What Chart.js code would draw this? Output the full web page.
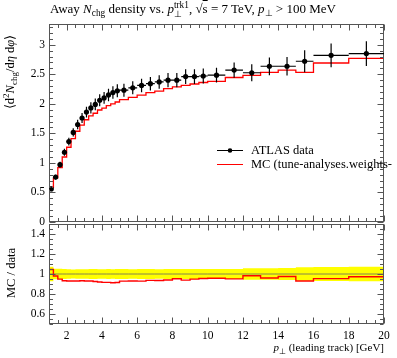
<!DOCTYPE html>
<html>
<head>
<meta charset="utf-8">
<script src="https://cdn.jsdelivr.net/npm/chart.js"></script>
<style>
  html, body { margin: 0; padding: 0; background: #fff; overflow: hidden; }
  #wrap { position: relative; width: 397px; height: 358px; font-family: "Liberation Serif", serif; color: #000; overflow: hidden; }
  canvas { position: absolute; left: 0; }
  .txt { position: absolute; white-space: nowrap; font-size: 12.5px; line-height: 1; }
  .txt sub, .txt sup { font-size: 0.72em; line-height: 0; }
  .ss { display: inline-flex; flex-direction: column; vertical-align: middle; font-size: 0.72em; line-height: 0.95; }
  .rot { transform: translate(-50%, -50%) rotate(-90deg); }
</style>
</head>
<body>
<div id="wrap">
  <canvas id="mainChart" width="397" height="226" style="top:0"></canvas>
  <canvas id="ratioChart" width="397" height="134" style="top:224px"></canvas>

  <div class="txt" style="left:50px; top:1px; font-size:13px;">Away <i>N</i><sub>chg</sub> density vs. <i>p</i><span class="ss"><span>trk1</span><span>⊥</span></span>, √<span style="text-decoration:overline">s</span> = 7 TeV, <i>p</i><sub>⊥</sub> &gt; 100 MeV</div>
  <div class="txt rot" style="left:10px; top:72px;">⟨d<sup>2</sup><i>N</i><sub>chg</sub>/d<i>η</i> d<i>φ</i>⟩</div>
  <div class="txt rot" style="left:11px; top:273px;">MC / data</div>
  <div class="txt" style="right:13px; top:342px; font-size:11px;"><i>p</i><sub>⊥</sub> (leading track) [GeV]</div>
  <div class="txt" style="left:251px; top:144px;">ATLAS data</div>
  <div class="txt" style="left:251px; top:158px;">MC (tune-analyses.weights-</div>
</div>
<script>
// bin edges of the leading-track pT bins [GeV]
const binEdges = [1, 1.25, 1.5, 1.75, 2, 2.25, 2.5, 2.75, 3, 3.25, 3.5, 3.75, 4, 4.25, 4.5, 4.75, 5,
  5.5, 6, 6.5, 7, 7.5, 8, 8.5, 9, 9.5, 10, 11, 12, 13, 14, 15, 16, 18, 20];

// ATLAS data, away region
const dataValues = [0.56, 0.76, 0.97, 1.18, 1.36, 1.515, 1.65, 1.76, 1.86, 1.93, 1.99, 2.06, 2.10, 2.15, 2.19, 2.22,
  2.23, 2.27, 2.31, 2.34, 2.37, 2.40, 2.40, 2.46, 2.46, 2.47,
  2.485, 2.57, 2.525, 2.635, 2.635, 2.72, 2.82, 2.85];
const dataErrors = [0.04, 0.04, 0.05, 0.06, 0.065, 0.07, 0.08, 0.085, 0.09, 0.095, 0.1, 0.1, 0.1, 0.105, 0.105, 0.11,
  0.11, 0.11, 0.115, 0.115, 0.115, 0.12, 0.12, 0.125, 0.125, 0.125,
  0.125, 0.13, 0.145, 0.15, 0.155, 0.185, 0.2, 0.21];

// MC prediction
const mcValues = [0.585, 0.745, 0.92, 1.10, 1.265, 1.41, 1.535, 1.64, 1.73, 1.795, 1.84, 1.895, 1.925, 1.97, 2.00, 2.03,
  2.07, 2.11, 2.145, 2.19, 2.215, 2.255, 2.285, 2.31, 2.335, 2.36,
  2.38, 2.445, 2.48, 2.53, 2.57, 2.53, 2.69, 2.77];

// tick labels
const xTickLabels = [2, 4, 6, 8, 10, 12, 14, 16, 18, 20];
const yTickLabelsMain = [0, 0.5, 1, 1.5, 2, 2.5, 3];
const yTickLabelsRatio = [0.6, 0.8, 1, 1.2, 1.4];

const binCentres = dataValues.map((v, i) => (binEdges[i] + binEdges[i + 1]) / 2);

// points for a stepped histogram line
function stepPoints(vals) {
  const pts = vals.map((v, i) => ({ x: binEdges[i], y: v }));
  pts.push({ x: binEdges[vals.length], y: vals[vals.length - 1] });
  return pts;
}

const mcRatio = mcValues.map((v, i) => v / dataValues[i]);
const bandUp = dataValues.map((v, i) => 1 + dataErrors[i] / v);
const bandDown = dataValues.map((v, i) => 1 - dataErrors[i] / v);
const dataRatio = dataValues.map(() => 1);

const FONT = { family: 'Liberation Serif', size: 11.5 };

// frame with inward ticks on all four sides
const framePlugin = {
  id: 'frame',
  afterDatasetsDraw(chart, args, opts) {
    const { ctx, chartArea: a } = chart;
    const xs = chart.scales.x, ys = chart.scales.y;
    const L = Math.round(a.left) + 0.5, R = Math.round(a.right) - 0.5;
    const T = Math.round(a.top) + 0.5, B = Math.round(a.bottom) - 0.5;
    ctx.save();
    ctx.strokeStyle = '#555';
    ctx.lineWidth = 1;
    ctx.strokeRect(L, T, R - L, B - T);
    ctx.beginPath();
    const isIn = (list, v) => list.some(m => Math.abs(m - v) < 1e-6);
    for (let v = Math.ceil(xs.min / opts.xMinor) * opts.xMinor; v <= xs.max + 1e-9; v += opts.xMinor) {
      const px = Math.round(xs.getPixelForValue(v)) + 0.5;
      const len = isIn(opts.xMajor, v) ? 6 : 3.5;
      ctx.moveTo(px, B); ctx.lineTo(px, B - len);
      ctx.moveTo(px, T); ctx.lineTo(px, T + len);
    }
    for (let v = Math.ceil(ys.min / opts.yMinor - 1e-6) * opts.yMinor; v <= ys.max + 1e-9; v += opts.yMinor) {
      const py = Math.round(ys.getPixelForValue(v)) + 0.5;
      const len = isIn(opts.yMajor, v) ? 6 : 3.5;
      ctx.moveTo(L, py); ctx.lineTo(L + len, py);
      ctx.moveTo(R, py); ctx.lineTo(R - len, py);
    }
    ctx.stroke();
    ctx.restore();
  }
};

// error bars for the data points, plus legend samples
const errorBarPlugin = {
  id: 'errbars',
  afterDatasetsDraw(chart) {
    const { ctx } = chart;
    const xs = chart.scales.x, ys = chart.scales.y;
    ctx.save();
    ctx.strokeStyle = '#000';
    ctx.lineWidth = 1.2;
    ctx.beginPath();
    dataValues.forEach((v, i) => {
      const x0 = xs.getPixelForValue(binEdges[i]), x1 = xs.getPixelForValue(binEdges[i + 1]);
      const xc = xs.getPixelForValue(binCentres[i]);
      const y = ys.getPixelForValue(v);
      ctx.moveTo(x0, y); ctx.lineTo(x1, y);
      ctx.moveTo(xc, ys.getPixelForValue(v - dataErrors[i]));
      ctx.lineTo(xc, ys.getPixelForValue(v + dataErrors[i]));
    });
    ctx.stroke();
    // legend samples
    ctx.lineWidth = 1;
    ctx.beginPath(); ctx.moveTo(217, 150.5); ctx.lineTo(243, 150.5); ctx.stroke();
    ctx.beginPath(); ctx.arc(230, 150.5, 2.3, 0, Math.PI * 2); ctx.fillStyle = '#000'; ctx.fill();
    ctx.strokeStyle = '#ff0000';
    ctx.beginPath(); ctx.moveTo(217, 164.5); ctx.lineTo(243, 164.5); ctx.stroke();
    ctx.restore();
  }
};

function fixedTicks(values) {
  return scale => { scale.ticks = values.map(v => ({ value: v })); };
}
// keep tick labels from pushing the plot area around
function noPad(size) {
  return s => {
    if (s.isHorizontal()) s.height = size; else s.width = size;
    s.paddingTop = 0; s.paddingBottom = 0; s.paddingLeft = 0; s.paddingRight = 0;
  };
}

new Chart(document.getElementById('mainChart'), {
  type: 'scatter',
  data: {
    datasets: [{
      label: 'ATLAS data',
      data: binCentres.map((x, i) => ({ x: x, y: dataValues[i] })),
      pointRadius: 2.6,
      pointBackgroundColor: '#000',
      pointBorderWidth: 0,
      showLine: false
    }, {
      label: 'MC (tune-analyses.weights-',
      type: 'line',
      data: stepPoints(mcValues),
      stepped: true,
      borderColor: '#ff0000',
      borderWidth: 1.3,
      pointRadius: 0,
      fill: false
    }]
  },
  options: {
    responsive: false,
    animation: false,
    events: [],
    layout: { padding: { top: 24, right: 13, bottom: 2, left: 0 } },
    plugins: {
      legend: { display: false },
      tooltip: { enabled: false },
      frame: { xMinor: 0.5, xMajor: xTickLabels, yMinor: 0.1, yMajor: yTickLabelsMain }
    },
    scales: {
      x: { type: 'linear', min: 1, max: 20, display: false },
      y: {
        min: 0, max: 3.35,
        afterFit: noPad(49),
        afterBuildTicks: fixedTicks(yTickLabelsMain),
        grid: { display: false, drawTicks: false },
        border: { display: false },
        ticks: { padding: 4, color: '#000', font: FONT, callback: v => String(v) }
      }
    }
  },
  plugins: [framePlugin, errorBarPlugin]
});

new Chart(document.getElementById('ratioChart'), {
  type: 'line',
  data: {
    datasets: [{
      label: 'MC ratio',
      data: stepPoints(mcRatio),
      stepped: true,
      borderColor: '#ff0000',
      borderWidth: 1.4,
      pointRadius: 0,
      fill: false
    }, {
      label: 'data ratio',
      data: stepPoints(dataRatio),
      stepped: true,
      borderColor: '#666',
      borderWidth: 0.8,
      pointRadius: 0,
      fill: false
    }, {
      label: 'band up',
      data: stepPoints(bandUp),
      stepped: true,
      borderWidth: 0,
      borderColor: 'rgba(0,0,0,0)',
      backgroundColor: '#ffff00',
      pointRadius: 0,
      fill: '+1'
    }, {
      label: 'band down',
      data: stepPoints(bandDown),
      stepped: true,
      borderWidth: 0,
      borderColor: 'rgba(0,0,0,0)',
      pointRadius: 0,
      fill: false
    }]
  },
  options: {
    responsive: false,
    animation: false,
    events: [],
    layout: { padding: { top: 0, right: 13, bottom: 0, left: 0 } },
    plugins: {
      legend: { display: false },
      tooltip: { enabled: false },
      frame: { xMinor: 0.5, xMajor: xTickLabels, yMinor: 0.05, yMajor: yTickLabelsRatio }
    },
    scales: {
      x: {
        type: 'linear', min: 1, max: 20,
        afterFit: noPad(34),
        afterBuildTicks: fixedTicks(xTickLabels),
        grid: { display: false, drawTicks: false },
        border: { display: false },
        ticks: { padding: 5, color: '#000', font: FONT, autoSkip: false, maxRotation: 0, callback: v => String(v) }
      },
      y: {
        min: 0.5, max: 1.5,
        afterFit: noPad(49),
        afterBuildTicks: fixedTicks(yTickLabelsRatio),
        grid: { display: false, drawTicks: false },
        border: { display: false },
        ticks: { padding: 4, color: '#000', font: FONT, callback: v => String(v) }
      }
    }
  },
  plugins: [framePlugin]
});
</script>
</body>
</html>
